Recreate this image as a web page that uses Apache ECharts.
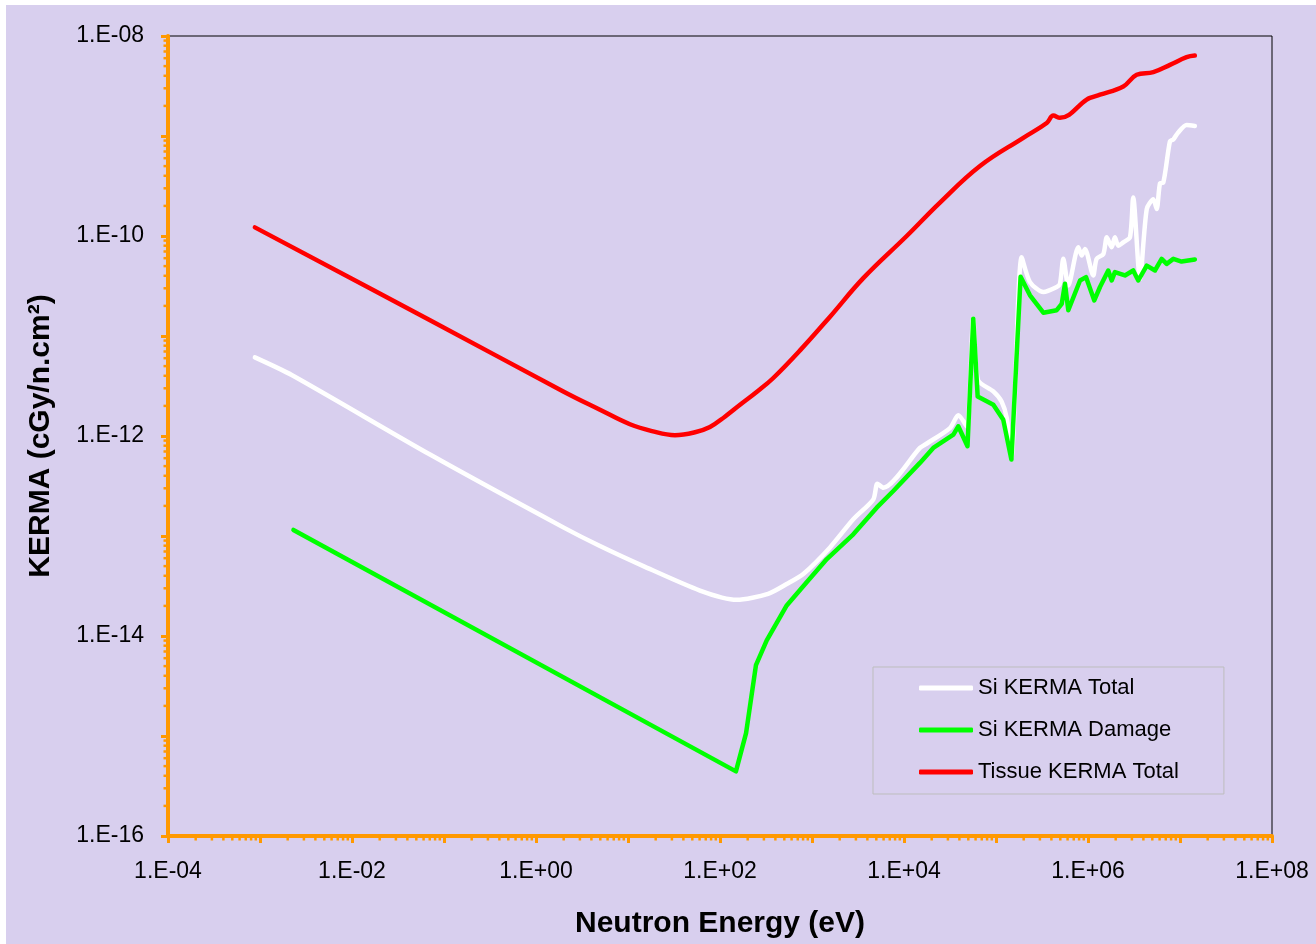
<!DOCTYPE html>
<html>
<head>
<meta charset="utf-8">
<script src="https://cdn.jsdelivr.net/npm/echarts@6/dist/echarts.min.js"></script>
<style>
  html, body { margin: 0; padding: 0; background: #ffffff; }
  #chart { position: absolute; left: 6px; top: 5px; width: 1310px; height: 939px; }
</style>
</head>
<body>
<div id="chart"></div>
<script>
// neutron energy (eV) / KERMA (cGy/n.cm2)
const siTotalEnergy = [8.8e-4, 2.21e-3, 7.05e-2, 1.98, 4.96, 14.7, 60.6, 152, 333, 531, 804, 1570, 2810, 4640, 5130, 5960,
  1.49e4, 1.69e4, 3.16e4, 3.89e4, 4.81e4, 5.66e4, 6.37e4, 9.35e4, 1.15e5, 1.31e5, 1.47e5, 1.90e5, 2.34e5, 3.27e5,
  4.57e5, 4.96e5, 5.39e5, 6.11e5, 7.85e5, 8.55e5, 9.27e5, 1.14e6, 1.24e6, 1.47e6, 1.60e6, 1.81e6, 1.96e6, 2.13e6,
  2.42e6, 2.86e6, 3.10e6, 3.67e6, 4.35e6, 5.13e6, 5.58e6, 6.07e6, 6.58e6, 7.78e6, 8.46e6, 9.51e6, 1.18e7, 1.45e7];
const siTotalKerma = [6.11e-12, 4.07e-12, 6.52e-13, 1.22e-13, 7.94e-14, 5.00e-14, 2.85e-14, 2.30e-14, 2.64e-14, 3.31e-14, 4.17e-14, 7.69e-14, 1.47e-13, 2.32e-13, 3.33e-13, 3.04e-13,
  7.60e-13, 8.19e-13, 1.20e-12, 1.61e-12, 1.25e-12, 1.49e-11, 3.63e-12, 2.79e-12, 2.21e-12, 1.51e-12, 6.18e-13, 6.14e-11, 3.46e-11, 2.75e-11,
  3.09e-11, 3.33e-11, 5.91e-11, 3.20e-11, 7.72e-11, 6.37e-11, 7.43e-11, 4.03e-11, 5.91e-11, 6.62e-11, 9.70e-11, 7.72e-11, 9.70e-11, 8.00e-11,
  8.65e-11, 9.70e-11, 2.43e-10, 3.73e-11, 1.86e-10, 2.33e-10, 1.86e-10, 3.37e-10, 3.42e-10, 8.87e-10, 9.23e-10, 1.08e-9, 1.29e-9, 1.26e-9];

const siDamageEnergy = [2.31e-3, 149, 192, 246, 322, 531, 875, 1450, 2810, 5050, 7650, 1.49e4, 2.08e4, 3.44e4, 3.89e4, 4.90e4,
  5.66e4, 6.32e4, 9.35e4, 1.20e5, 1.47e5, 1.85e5, 2.34e5, 3.27e5, 4.57e5, 5.18e5, 5.62e5, 6.11e5, 8.19e5, 9.51e5,
  1.17e6, 1.35e6, 1.66e6, 1.81e6, 1.96e6, 2.52e6, 3.10e6, 3.52e6, 4.35e6, 5.35e6, 6.32e6, 7.16e6, 8.46e6, 1.04e7, 1.45e7];
const siDamageKerma = [1.15e-13, 4.43e-16, 1.07e-15, 5.11e-15, 9.06e-15, 2.02e-14, 3.44e-14, 5.88e-14, 1.04e-13, 1.92e-13, 2.82e-13, 5.38e-13, 7.60e-13, 1.03e-12, 1.25e-12, 7.90e-13,
  1.49e-11, 2.48e-12, 2.05e-12, 1.45e-12, 5.81e-13, 3.91e-11, 2.55e-11, 1.71e-11, 1.81e-11, 2.10e-11, 3.33e-11, 1.81e-11, 3.59e-11, 3.88e-11,
  2.27e-11, 3.09e-11, 4.52e-11, 3.59e-11, 4.35e-11, 4.03e-11, 4.52e-11, 3.59e-11, 5.06e-11, 4.52e-11, 5.91e-11, 5.26e-11, 5.91e-11, 5.55e-11, 5.83e-11];

const tissueEnergy = [8.8e-4, 7.05e-2, 1.98, 4.96, 10.5, 18.2, 32.4, 53.5, 77.8, 113, 165, 252, 377, 741, 1570, 3610,
  1.07e4, 2.46e4, 6.70e4, 1.98e5, 3.56e5, 4.20e5, 4.96e5, 9.68e5, 1.05e6, 1.35e6, 2.42e6, 3.38e6, 5.13e6, 7.78e6, 1.18e7, 1.45e7];
const tissueKerma = [1.22e-10, 1.44e-11, 2.79e-12, 1.83e-12, 1.31e-12, 1.12e-12, 1.02e-12, 1.09e-12, 1.23e-12, 1.56e-12, 2.05e-12, 2.77e-12, 3.78e-12, 7.18e-12, 1.56e-11, 3.79e-11,
  1.0e-10, 2.16e-10, 5.01e-10, 9.59e-10, 1.35e-9, 1.60e-9, 1.52e-9, 2.31e-9, 2.40e-9, 2.59e-9, 3.13e-9, 4.09e-9, 4.35e-9, 5.14e-9, 6.14e-9, 6.37e-9];

const seriesNames = ['Si KERMA Total', 'Si KERMA Damage', 'Tissue KERMA Total'];
const xLabelText = ['1.E-04', '1.E-02', '1.E+00', '1.E+02', '1.E+04', '1.E+06', '1.E+08'];
const yLabelText = ['1.E-16', '1.E-14', '1.E-12', '1.E-10', '1.E-08'];
const minorSteps = [2, 3, 4, 5, 6, 7, 8, 9];

// axes run on decades (log10)
const xMin = -4, xMax = 8, yMin = -16, yMax = -8;
const orange = '#ff9900';
const font = 'Liberation Sans, Arial, sans-serif';

const toLog = (es, ks) => es.map((e, i) => [Math.log10(e), Math.log10(ks[i])]);

const xMinor = [], yMinor = [];
for (let d = xMin; d < xMax; d++) minorSteps.forEach(m => xMinor.push([d + Math.log10(m), yMin]));
for (let d = yMin; d < yMax; d++) minorSteps.forEach(m => yMinor.push([xMin, d + Math.log10(m)]));

const minorTicks = (data, dx, dy) => ({
  type: 'custom',
  silent: true,
  clip: false,
  z: 4,
  data: data,
  renderItem: (params, api) => {
    const p = api.coord([api.value(0), api.value(1)]);
    return {
      type: 'line',
      shape: { x1: p[0], y1: p[1], x2: p[0] + dx, y2: p[1] + dy },
      style: { stroke: orange, lineWidth: 2.5 }
    };
  }
});

const lineSeries = (name, data, color, smooth) => ({
  name: name,
  type: 'line',
  data: data,
  symbol: 'none',
  smooth: smooth,
  lineStyle: { color: color, width: 4.5, cap: 'round', join: 'round' },
  itemStyle: { color: color }
});

const myChart = echarts.init(document.getElementById('chart'));
myChart.setOption({
  animation: false,
  backgroundColor: '#d8cfee',
  textStyle: { fontFamily: font },
  grid: {
    left: 162, top: 31, width: 1104, height: 804,
    show: true, borderColor: '#000', borderWidth: 1
  },
  legend: {
    data: seriesNames,
    orient: 'vertical',
    left: 867,
    top: 662,
    padding: [10, 45, 11, 46],
    icon: 'roundRect',
    itemWidth: 54,
    itemHeight: 5,
    itemGap: 20,
    borderColor: '#bdbdbd',
    borderWidth: 1,
    textStyle: { fontSize: 22, lineHeight: 22, color: '#000', fontFamily: font }
  },
  xAxis: {
    type: 'value',
    min: xMin, max: xMax, interval: 1,
    name: 'Neutron Energy (eV)',
    nameLocation: 'middle',
    nameGap: 73,
    nameTextStyle: { fontSize: 30, fontWeight: 'bold', color: '#000', fontFamily: font },
    axisLine: { onZero: false, lineStyle: { color: orange, width: 4 } },
    axisTick: { length: 7, lineStyle: { color: orange, width: 3 } },
    axisLabel: {
      margin: 24, fontSize: 23, color: '#000', fontFamily: font,
      showMinLabel: true, showMaxLabel: true,
      formatter: v => {
        const i = (Math.round(v) - xMin) / 2;
        return Number.isInteger(i) ? xLabelText[i] : '';
      }
    },
    splitLine: { show: false }
  },
  yAxis: {
    type: 'value',
    min: yMin, max: yMax, interval: 1,
    name: 'KERMA (cGy/n.cm²)',
    nameLocation: 'middle',
    nameGap: 112,
    nameTextStyle: { fontSize: 30, fontWeight: 'bold', color: '#000', fontFamily: font },
    axisLine: { onZero: false, lineStyle: { color: orange, width: 4 } },
    axisTick: { length: 7, lineStyle: { color: orange, width: 3 } },
    axisLabel: {
      margin: 24, fontSize: 23, color: '#000', fontFamily: font,
      padding: [8, 0, 0, 0],
      showMinLabel: true, showMaxLabel: true,
      formatter: v => {
        const i = (Math.round(v) - yMin) / 2;
        return Number.isInteger(i) ? yLabelText[i] : '';
      }
    },
    splitLine: { show: false }
  },
  series: [
    lineSeries(seriesNames[0], toLog(siTotalEnergy, siTotalKerma), '#ffffff', 0.25),
    lineSeries(seriesNames[1], toLog(siDamageEnergy, siDamageKerma), '#00ff00', false),
    lineSeries(seriesNames[2], toLog(tissueEnergy, tissueKerma), '#ff0000', 0.4),
    minorTicks(xMinor, 0, 4.5),
    minorTicks(yMinor, -4.5, 0)
  ]
});
</script>
</body>
</html>
